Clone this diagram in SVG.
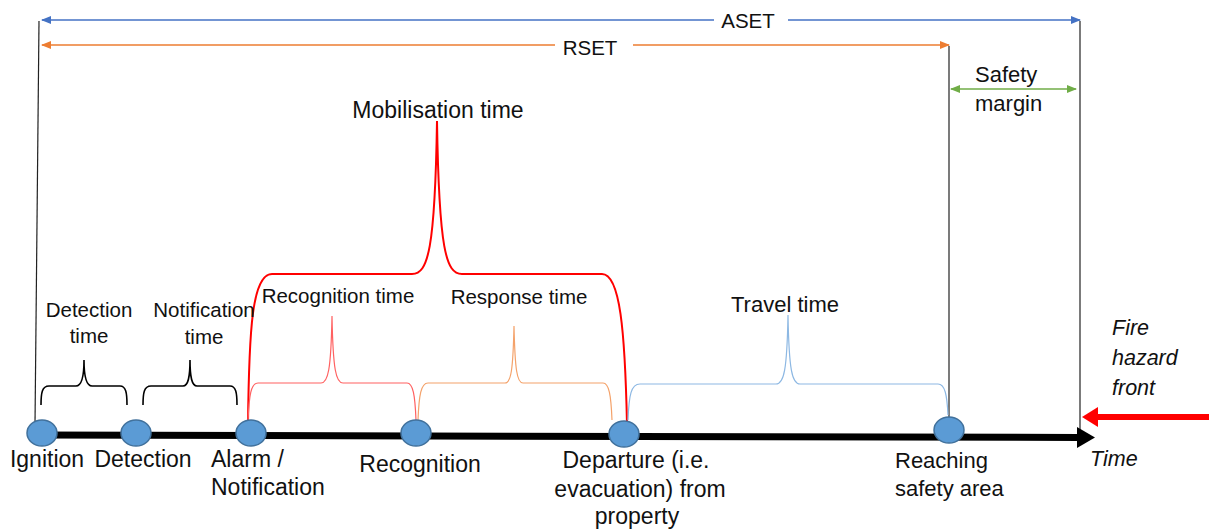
<svg xmlns="http://www.w3.org/2000/svg" width="1209" height="531" viewBox="0 0 1209 531">
  <style>
    text { font-family: "Liberation Sans", Arial, sans-serif; fill: #111; }
    .ev { font-size: 23px; }
    .lg { font-size: 22px; }
    .hd { font-size: 20.5px; }
    .sm { font-size: 20.5px; }
    .it { font-style: italic; font-size: 21.5px; }
    .mid { text-anchor: middle; }
    .event { fill: #5B9BD5; stroke: #41719C; stroke-width: 1.5; }
    .guide { stroke: #222; stroke-width: 1.2; fill: none; }
    .brace { fill: none; }
  </style>
  <defs>
    <marker id="headBlue" markerWidth="10" markerHeight="8" refX="9" refY="4" orient="auto-start-reverse" markerUnits="userSpaceOnUse">
      <path d="M0,0 L10,4 L0,8 Z" fill="#4472C4"/>
    </marker>
    <marker id="headOrange" markerWidth="10" markerHeight="8" refX="9" refY="4" orient="auto-start-reverse" markerUnits="userSpaceOnUse">
      <path d="M0,0 L10,4 L0,8 Z" fill="#ED7D31"/>
    </marker>
    <marker id="headGreen" markerWidth="10" markerHeight="8" refX="9" refY="4" orient="auto-start-reverse" markerUnits="userSpaceOnUse">
      <path d="M0,0 L10,4 L0,8 Z" fill="#70AD47"/>
    </marker>
  </defs>

  <!-- vertical reference lines -->
  <g id="guides">
    <line class="guide" x1="39" y1="21" x2="35" y2="425"/>
    <line class="guide" x1="949" y1="46" x2="949" y2="420"/>
    <line class="guide" x1="1080" y1="21" x2="1080" y2="432"/>
  </g>

  <g id="connectors">
    <!-- ASET span -->
    <line x1="42" y1="20" x2="714" y2="20" stroke="#4472C4" stroke-width="1.6" marker-start="url(#headBlue)"/>
    <line x1="788" y1="20" x2="1080" y2="20" stroke="#4472C4" stroke-width="1.6" marker-end="url(#headBlue)"/>
    <!-- RSET span -->
    <line x1="42" y1="45" x2="555" y2="45" stroke="#ED7D31" stroke-width="1.6" marker-start="url(#headOrange)"/>
    <line x1="633" y1="45" x2="949" y2="45" stroke="#ED7D31" stroke-width="1.6" marker-end="url(#headOrange)"/>
    <!-- safety margin -->
    <line x1="951" y1="89" x2="1076" y2="89" stroke="#70AD47" stroke-width="1.6" marker-start="url(#headGreen)" marker-end="url(#headGreen)"/>

    <!-- time axis -->
    <line x1="38" y1="435" x2="1079" y2="437.5" stroke="#000" stroke-width="7"/>
    <polygon points="1077,427 1095,437.5 1077,448" fill="#000"/>

    <!-- fire hazard front arrow -->
    <line x1="1209" y1="417" x2="1096" y2="417" stroke="#FF0000" stroke-width="6"/>
    <polygon points="1098,407 1082,417 1098,427" fill="#FF0000"/>

    <!-- braces -->
    <path id="brace-detection" class="brace" stroke="#000" stroke-width="1.6" d="M41,405 C41,393 42,386 49,386 L76,386 C81,386 84,378 84,360 C84,378 87,386 92,386 L120,386 C126,386 127,393 127,405"/>
    <path id="brace-notification" class="brace" stroke="#000" stroke-width="1.6" d="M143,405 C143,393 144,386 151,386 L183,386 C188,386 190,378 190,360 C190,378 192,386 197,386 L230,386 C236,386 237,393 237,405"/>
    <path id="brace-mobilisation" class="brace" stroke="#FF0000" stroke-width="2" d="M248,425 C249,330 252,274 272,274 L412,274 C428,274 435,250 437,121 C439,250 446,274 462,274 L602,274 C620,274 625,330 627,425"/>
    <path id="brace-recognition" class="brace" stroke="#FF6161" stroke-width="1.2" d="M248,422 C249,395 251,383 258,383 L321,383 C328,383 331,370 332,316 C333,370 336,383 343,383 L407,383 C413,383 415,395 416,420"/>
    <path id="brace-response" class="brace" stroke="#F4A26A" stroke-width="1.2" d="M418,420 C419,395 421,383 428,383 L505,383 C511,383 513,370 514,326 C515,370 517,383 523,383 L603,383 C609,383 611,395 612,420"/>
    <path id="brace-travel" class="brace" stroke="#8DB8E3" stroke-width="1.2" d="M628,420 C629,395 631,384 640,384 L776,384 C784,384 787,370 788,315 C789,370 792,384 800,384 L938,384 C945,384 947,395 948,415"/>
  </g>

  <!-- events on the time axis -->
  <g id="ignition">
    <ellipse class="event" cx="42" cy="433" rx="15" ry="13"/>
    <text class="ev mid" x="47" y="467">Ignition</text>
  </g>
  <g id="detection">
    <ellipse class="event" cx="136" cy="433" rx="15" ry="13"/>
    <text class="ev mid" x="143" y="467">Detection</text>
  </g>
  <g id="alarm">
    <ellipse class="event" cx="251" cy="433" rx="15" ry="13"/>
    <text class="ev" x="211" y="467">Alarm /</text>
    <text class="ev" x="211" y="495">Notification</text>
  </g>
  <g id="recognition">
    <ellipse class="event" cx="416" cy="433" rx="15" ry="13"/>
    <text class="ev mid" x="420" y="472">Recognition</text>
  </g>
  <g id="departure">
    <ellipse class="event" cx="624" cy="434" rx="15" ry="13"/>
    <text class="ev mid" x="636" y="468">Departure (i.e.</text>
    <text class="ev mid" x="640" y="497">evacuation) from</text>
    <text class="ev mid" x="637" y="524">property</text>
  </g>
  <g id="reaching">
    <ellipse class="event" cx="949" cy="430" rx="15" ry="13"/>
    <text class="lg" x="895" y="468">Reaching</text>
    <text class="lg" x="895" y="496">safety area</text>
  </g>

  <!-- interval labels -->
  <g id="labels">
    <text class="hd mid" x="748" y="28">ASET</text>
    <text class="hd mid" x="590" y="55">RSET</text>
    <text class="lg" x="975" y="82">Safety</text>
    <text class="lg" x="975" y="111">margin</text>
    <text class="ev mid" x="438" y="118">Mobilisation time</text>
    <text class="sm mid" x="89" y="317">Detection</text>
    <text class="sm mid" x="89" y="343">time</text>
    <text class="sm mid" x="204" y="317">Notification</text>
    <text class="sm mid" x="204" y="344">time</text>
    <text class="sm mid" x="338" y="303">Recognition time</text>
    <text class="sm mid" x="519" y="304">Response time</text>
    <text class="lg mid" x="785" y="312">Travel time</text>
    <text class="it" x="1090" y="466">Time</text>
    <text class="it" x="1112" y="335">Fire</text>
    <text class="it" x="1112" y="365">hazard</text>
    <text class="it" x="1112" y="395">front</text>
  </g>
</svg>
